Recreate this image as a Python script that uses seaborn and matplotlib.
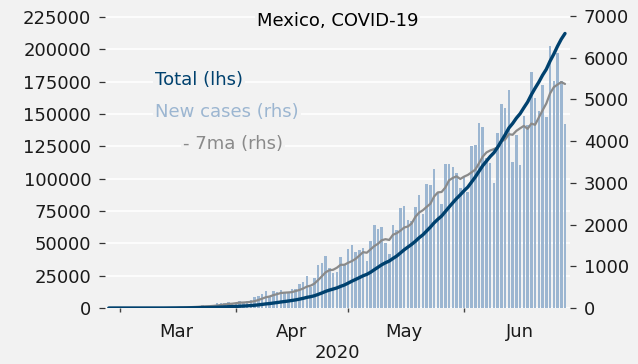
import numpy as np
import pandas as pd
import matplotlib
matplotlib.use("Agg")
import matplotlib.pyplot as plt
import matplotlib.dates as mdates
from matplotlib.ticker import NullFormatter
import seaborn as sns

# Daily new confirmed cases, Mexico, starting 2020-02-27
start_date = "2020-02-27"
new_cases = [
    0, 1, 3,                                                    # Feb 27-29
    1, 0, 0, 0, 0, 0, 1, 0, 1, 0, 0, 1, 4, 14, 15, 12, 29, 11,  # Mar 1-18
    25, 46, 39, 48, 65, 51, 38, 70, 110, 132, 131, 145, 101,    # Mar 19-31
    121, 163, 132, 178, 202, 253, 296, 346, 396, 260, 403, 375,  # Apr 1-12
    442, 353, 385, 448, 450, 578, 622, 764, 511, 729, 1043,      # Apr 13-23
    1089, 1239, 970, 835, 852, 1223, 1047,                       # Apr 24-30
    1425, 1515, 1349, 1383, 1434, 1120, 1609, 1982, 1906, 1938,  # May 1-10
    1562, 1305, 1997, 1862, 2409, 2437, 2112, 2075, 2414, 2713,  # May 11-20
    2248, 2973, 2960, 3329, 2764, 2485, 3455, 3463, 3377, 3227,  # May 21-30
    2885,                                                        # May 31
    3152, 2771, 3891, 3912, 4442, 4346, 3593, 3484, 2999, 4199,  # Jun 1-10
    4883, 4790, 5222, 3494, 4147, 3427, 4599, 4390, 5662, 5030,  # Jun 11-20
    4717, 5343, 4577, 6288, 5437, 6104, 5441, 4410,              # Jun 21-28
]

title = "Mexico, COVID-19"
label_total = "Total (lhs)"
label_new = "New cases (rhs)"
label_ma = "- 7ma (rhs)"
year_label = "2020"
left_ticks = list(range(0, 225001, 25000))
right_ticks = list(range(0, 7001, 1000))

dates = pd.date_range(start_date, periods=len(new_cases), freq="D")
df = pd.DataFrame({"date": dates, "new": new_cases})
df["total"] = df["new"].cumsum()
df["ma7"] = df["new"].rolling(7, min_periods=1).mean()

BG = "#f2f2f2"
DARK = "#00416e"
LIGHT = "#9cb6d1"
GREY = "#8a8a8a"
INK = "#1a1a1a"

sns.set_theme(style="whitegrid")
plt.rcParams["font.family"] = ["DejaVu Sans"]
plt.rcParams["axes.facecolor"] = BG
plt.rcParams["figure.facecolor"] = BG

fig = plt.figure(figsize=(6.38, 3.64), dpi=100, facecolor=BG)
rect = [0.1646, 0.1538, 0.7288, 0.8187]

# Base axes: left scale and the horizontal grid
ax = fig.add_axes(rect)
ax.set_facecolor(BG)
for s in ax.spines.values():
    s.set_visible(False)
ax.set_ylim(0, 230400)
ax.set_yticks(left_ticks)
ax.set_yticklabels([str(v) for v in left_ticks])
ax.grid(axis="y", color="white", linewidth=1.2)
ax.grid(axis="x", visible=False)
ax.tick_params(axis="y", which="major", left=True, direction="out", length=4,
               width=0.9, color="#333333", pad=6, labelsize=13, labelcolor=INK)

# Right scale: daily bars and 7-day average
ax2 = ax.twinx()
ax2.patch.set_visible(False)
for s in ax2.spines.values():
    s.set_visible(False)
ax2.grid(False)
ax2.bar(df["date"], df["new"], width=0.68, color=LIGHT, linewidth=0)
sns.lineplot(data=df, x="date", y="ma7", ax=ax2, color=GREY, linewidth=1.6)
ax2.set_ylim(0, 7144)
ax2.set_yticks(right_ticks)
ax2.set_yticklabels([str(v) for v in right_ticks])
ax2.set_ylabel("")
ax2.tick_params(axis="y", which="major", right=True, direction="out", length=4,
                width=0.9, color="#333333", pad=6, labelsize=13, labelcolor=INK)

# Top layer: cumulative total on the left scale
ax3 = fig.add_axes(rect, sharex=ax, sharey=ax)
ax3.patch.set_visible(False)
sns.lineplot(data=df, x="date", y="total", ax=ax3, color=DARK, linewidth=2.4)
ax3.axis("off")

# Date axis: month boundaries as ticks, month names centred mid-month
ax.set_xlim(pd.Timestamp("2020-02-26"), pd.Timestamp("2020-06-29 08:00"))
ax.xaxis.set_major_locator(mdates.MonthLocator())
ax.xaxis.set_major_formatter(NullFormatter())
ax.xaxis.set_minor_locator(mdates.MonthLocator(bymonthday=16))
ax.xaxis.set_minor_formatter(mdates.DateFormatter("%b"))
ax.tick_params(axis="x", which="major", bottom=True, direction="out", length=3,
               width=1, color="#444444", pad=2)
ax.tick_params(axis="x", which="minor", bottom=True, length=0, pad=11,
               labelsize=13, labelcolor=INK)
ax.set_xlabel(year_label, fontsize=13, color=INK, labelpad=2)
ax.set_ylabel("")

box = dict(facecolor=BG, edgecolor="none", pad=1.5)
ax.text(0.5, 0.963, title, transform=ax.transAxes, ha="center", va="center",
        fontsize=13, color="black", bbox=box)
ax.text(0.1075, 0.765, label_total, transform=ax.transAxes, ha="left",
        va="center", fontsize=13, color=DARK, bbox=box)
ax.text(0.1075, 0.658, label_new, transform=ax.transAxes, ha="left",
        va="center", fontsize=13, color=LIGHT, bbox=box)
ax.text(0.168, 0.55, label_ma, transform=ax.transAxes, ha="left",
        va="center", fontsize=13, color=GREY, bbox=box)

fig.savefig("out.png", dpi=100, facecolor=BG)
